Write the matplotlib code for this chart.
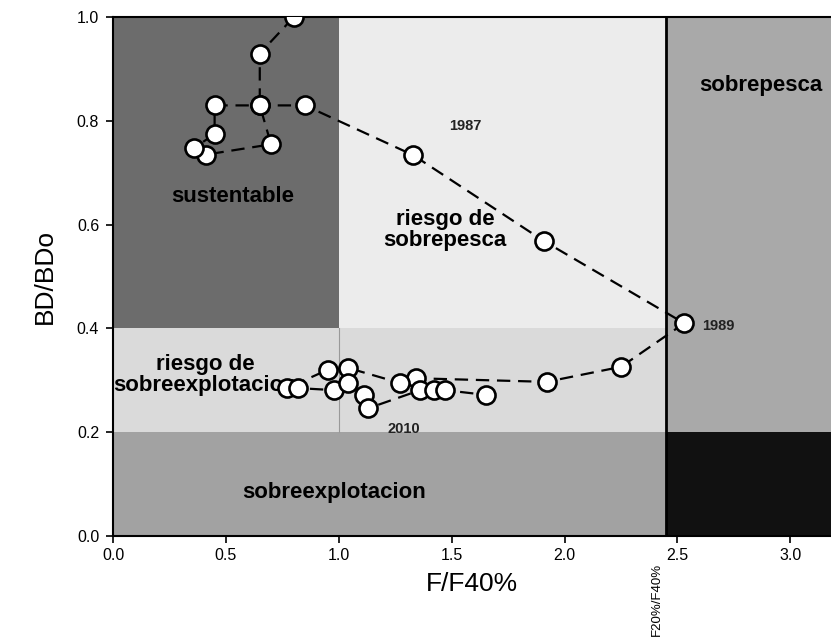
import matplotlib
matplotlib.use("Agg")
import matplotlib.pyplot as plt
from matplotlib.patches import Rectangle

plt.rcParams['font.family'] = ['Liberation Sans', 'DejaVu Sans']

# trajectory F/F40% and BD/BDo (chronological order)
f_ratio = [0.80, 0.65, 0.65, 0.70, 0.41, 0.36, 0.45, 0.45, 0.65, 0.85,
           1.33, 1.91, 2.53, 2.25, 1.92,
           1.34, 1.27, 1.04, 0.95, 0.77, 0.82, 0.98, 1.04, 1.11, 1.13,
           1.36, 1.42, 1.47, 1.65]
bd_ratio = [1.00, 0.93, 0.83, 0.755, 0.735, 0.748, 0.775, 0.83, 0.83, 0.83,
            0.734, 0.568, 0.41, 0.326, 0.297,
            0.304, 0.295, 0.324, 0.32, 0.285, 0.285, 0.281, 0.295, 0.272, 0.246,
            0.281, 0.281, 0.281, 0.272]

# reference points
f_lim = 2.45
b_lim = 0.4
b_low = 0.2
f_one = 1.0

fig = plt.figure(figsize=(8.31, 6.38), dpi=100)
ax = fig.add_axes([0.136, 0.16, 0.864, 0.813])
ax.set_xlim(0, 3.18)
ax.set_ylim(0, 1.0)

zones = [
    (0, b_lim, f_one, 1 - b_lim, '#6c6c6c'),             # sustentable
    (f_one, b_lim, f_lim - f_one, 1 - b_lim, '#ececec'),  # riesgo de sobrepesca
    (f_lim, b_low, 3.18 - f_lim, 1 - b_low, '#a9a9a9'),   # sobrepesca
    (f_lim, 0, 3.18 - f_lim, b_low, '#111111'),
    (0, 0, f_lim, b_low, '#a2a2a2'),                      # sobreexplotacion
    (0, b_low, f_lim, b_lim - b_low, '#dadada'),          # riesgo de sobreexplotacion
]
for x0, y0, w, h, c in zones:
    ax.add_patch(Rectangle((x0, y0), w, h, facecolor=c, edgecolor='none', zorder=0))

ax.plot([f_one, f_one], [b_low, b_lim], color='#999999', lw=0.8, zorder=1)
ax.axvline(f_lim, color='black', lw=2, zorder=2)

ax.plot(f_ratio, bd_ratio, color='black', lw=1.6, dashes=(6, 3.5), zorder=3)
ax.plot(f_ratio, bd_ratio, linestyle='none', marker='o', markersize=13,
        markerfacecolor='white', markeredgecolor='black', markeredgewidth=1.9, zorder=4)

tkw = dict(fontweight='bold', fontsize=16, color='black', zorder=2.5)
ax.text(0.53, 0.655, 'sustentable', ha='center', va='center', **tkw)
ax.text(1.47, 0.59, 'riesgo de\nsobrepesca', ha='center', va='center', linespacing=1.0, **tkw)
ax.text(2.87, 0.868, 'sobrepesca', ha='center', va='center', **tkw)
ax.text(0.41, 0.31, 'riesgo de\nsobreexplotacion', ha='center', va='center', linespacing=1.0, **tkw)
ax.text(0.98, 0.083, 'sobreexplotacion', ha='center', va='center', **tkw)

ykw = dict(ha='center', va='center', fontsize=10.5, fontweight='bold', color='#222222', zorder=5)
ax.text(1.56, 0.79, '1987', **ykw)
ax.text(2.68, 0.405, '1989', **ykw)
ax.text(1.29, 0.207, '2010', **ykw)

ax.text(2.41, -0.052, 'F20%/F40%', rotation=90, ha='center', va='top', fontsize=9.5,
        transform=ax.transData, clip_on=False)

ax.set_xticks([0, 0.5, 1.0, 1.5, 2.0, 2.5, 3.0])
ax.set_xticklabels(['0.0', '0.5', '1.0', '1.5', '2.0', '2.5', '3.0'])
ax.set_yticks([0, 0.2, 0.4, 0.6, 0.8, 1.0])
ax.set_yticklabels(['0.0', '0.2', '0.4', '0.6', '0.8', '1.0'])
ax.tick_params(direction='out', length=5, width=1.2, labelsize=11.5)
ax.tick_params(axis='x', pad=4)
ax.tick_params(axis='y', pad=5)

ax.set_xlabel('F/F40%', fontsize=19, labelpad=6)
ax.set_ylabel('BD/BDo', fontsize=19, labelpad=14)

for s in ['left', 'bottom', 'top']:
    ax.spines[s].set_linewidth(1.5)
ax.spines['right'].set_visible(False)

fig.savefig('out.png', dpi=100)
